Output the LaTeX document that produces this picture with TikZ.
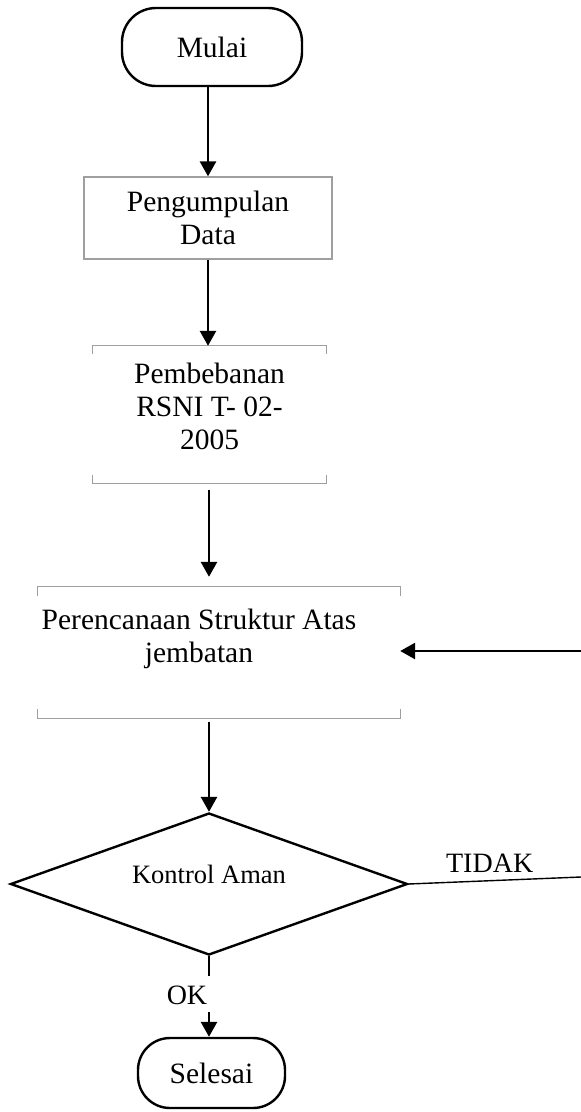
\documentclass[tikz,border=0pt]{standalone}
\usepackage{fontspec}
\setmainfont{Liberation Serif}
\usetikzlibrary{shapes,arrows.meta,positioning,calc}

\begin{document}
\begin{tikzpicture}[
    x=1pt, y=-1pt,
    font=\fontsize{29.5}{33}\selectfont,
    terminal/.style={rectangle, draw, line width=2.4pt, rounded corners=34pt, minimum width=180pt, minimum height=78pt, inner sep=0pt},
    process/.style={rectangle, draw=gray!75, line width=1.3pt, align=center, inner sep=0pt},
    textbox/.style={rectangle, inner sep=0pt},
    caption/.style={align=center, inner sep=0pt},
    decision/.style={diamond, draw, line width=2.4pt, minimum width=397pt, minimum height=142pt, aspect=2.8, inner sep=0pt},
    bracket/.style={draw=gray!75, line width=1.3pt},
    arrow/.style={line width=2.8pt, -{Triangle[width=16pt, length=15pt]}},
    answer/.style={inner sep=0pt, font=\fontsize{28}{32}\selectfont}
]
\useasboundingbox (0,0) rectangle (581,1112);

% Mulai
\node [terminal] at (212,47) (mulai) {Mulai};

% Pengumpulan Data
\node [process, minimum width=248pt, minimum height=82pt] at (208,218) (pengumpulan) {Pengumpulan\\Data};

% Pembebanan (box open at the sides)
\node [textbox, minimum width=233pt, minimum height=137pt] at (209.5,414.5) (pembebanan) {};
\node [caption] at ([yshift=8pt] pembebanan.center) (pembebanantext) {Pembebanan\\RSNI T- 02-\\2005};
\draw [bracket] ([yshift=-8pt] pembebanan.north west) -- (pembebanan.north west) -- (pembebanan.north east) -- ([yshift=-8pt] pembebanan.north east);
\draw [bracket] ([yshift=8pt] pembebanan.south west) -- (pembebanan.south west) -- (pembebanan.south east) -- ([yshift=8pt] pembebanan.south east);

% Perencanaan Struktur Atas
\node [textbox, minimum width=362pt, minimum height=131pt] at (219,652.5) (perencanaan) {};
\node [caption] at ([xshift=-20pt, yshift=14pt] perencanaan.center) (perencanaantext) {Perencanaan Struktur Atas\\jembatan};
\draw [bracket] ([yshift=-9pt] perencanaan.north west) -- (perencanaan.north west) -- (perencanaan.north east) -- ([yshift=-9pt] perencanaan.north east);
\draw [bracket] ([yshift=9pt] perencanaan.south west) -- (perencanaan.south west) -- (perencanaan.south east) -- ([yshift=9pt] perencanaan.south east);

% Kontrol Aman
\node [decision] at (209,884) (kontrol) {};
\node [caption, font=\fontsize{26.5}{30}\selectfont] at ([yshift=10pt] kontrol.center) (kontroltext) {Kontrol Aman};

% Selesai
\node [terminal, rounded corners=32pt, minimum width=147pt, minimum height=70pt] at (211.5,1073) (selesai) {Selesai};

% loop back from TIDAK
\coordinate (loopbot) at (581,877);
\coordinate (looptop) at (581,651);

% Arrows
\draw [arrow] (mulai.south -| pengumpulan.north) -- (pengumpulan.north);
\draw [arrow] (pengumpulan.south) -- (pengumpulan.south |- pembebanan.north);
\draw [arrow, shorten <=7pt, shorten >=10pt] (pembebanan.south -| kontrol.north) -- (perencanaan.north -| kontrol.north);
\draw [arrow, shorten <=4pt] (perencanaan.south -| kontrol.north) -- (kontrol.north);
\draw [arrow] (kontrol.south) -- ++(0,20) ++(0,36) -- (selesai.north -| kontrol.south);
\draw [line width=1.4pt] (kontrol.east) -- (loopbot) node [answer, pos=0.47, above=7pt] (tidak) {TIDAK};
\draw [arrow] (looptop) -- (perencanaan.east |- looptop);

% Labels
\node [answer] at ([xshift=-22pt, yshift=-39pt] kontrol.south) (ok) {OK};

\end{tikzpicture}
\end{document}
